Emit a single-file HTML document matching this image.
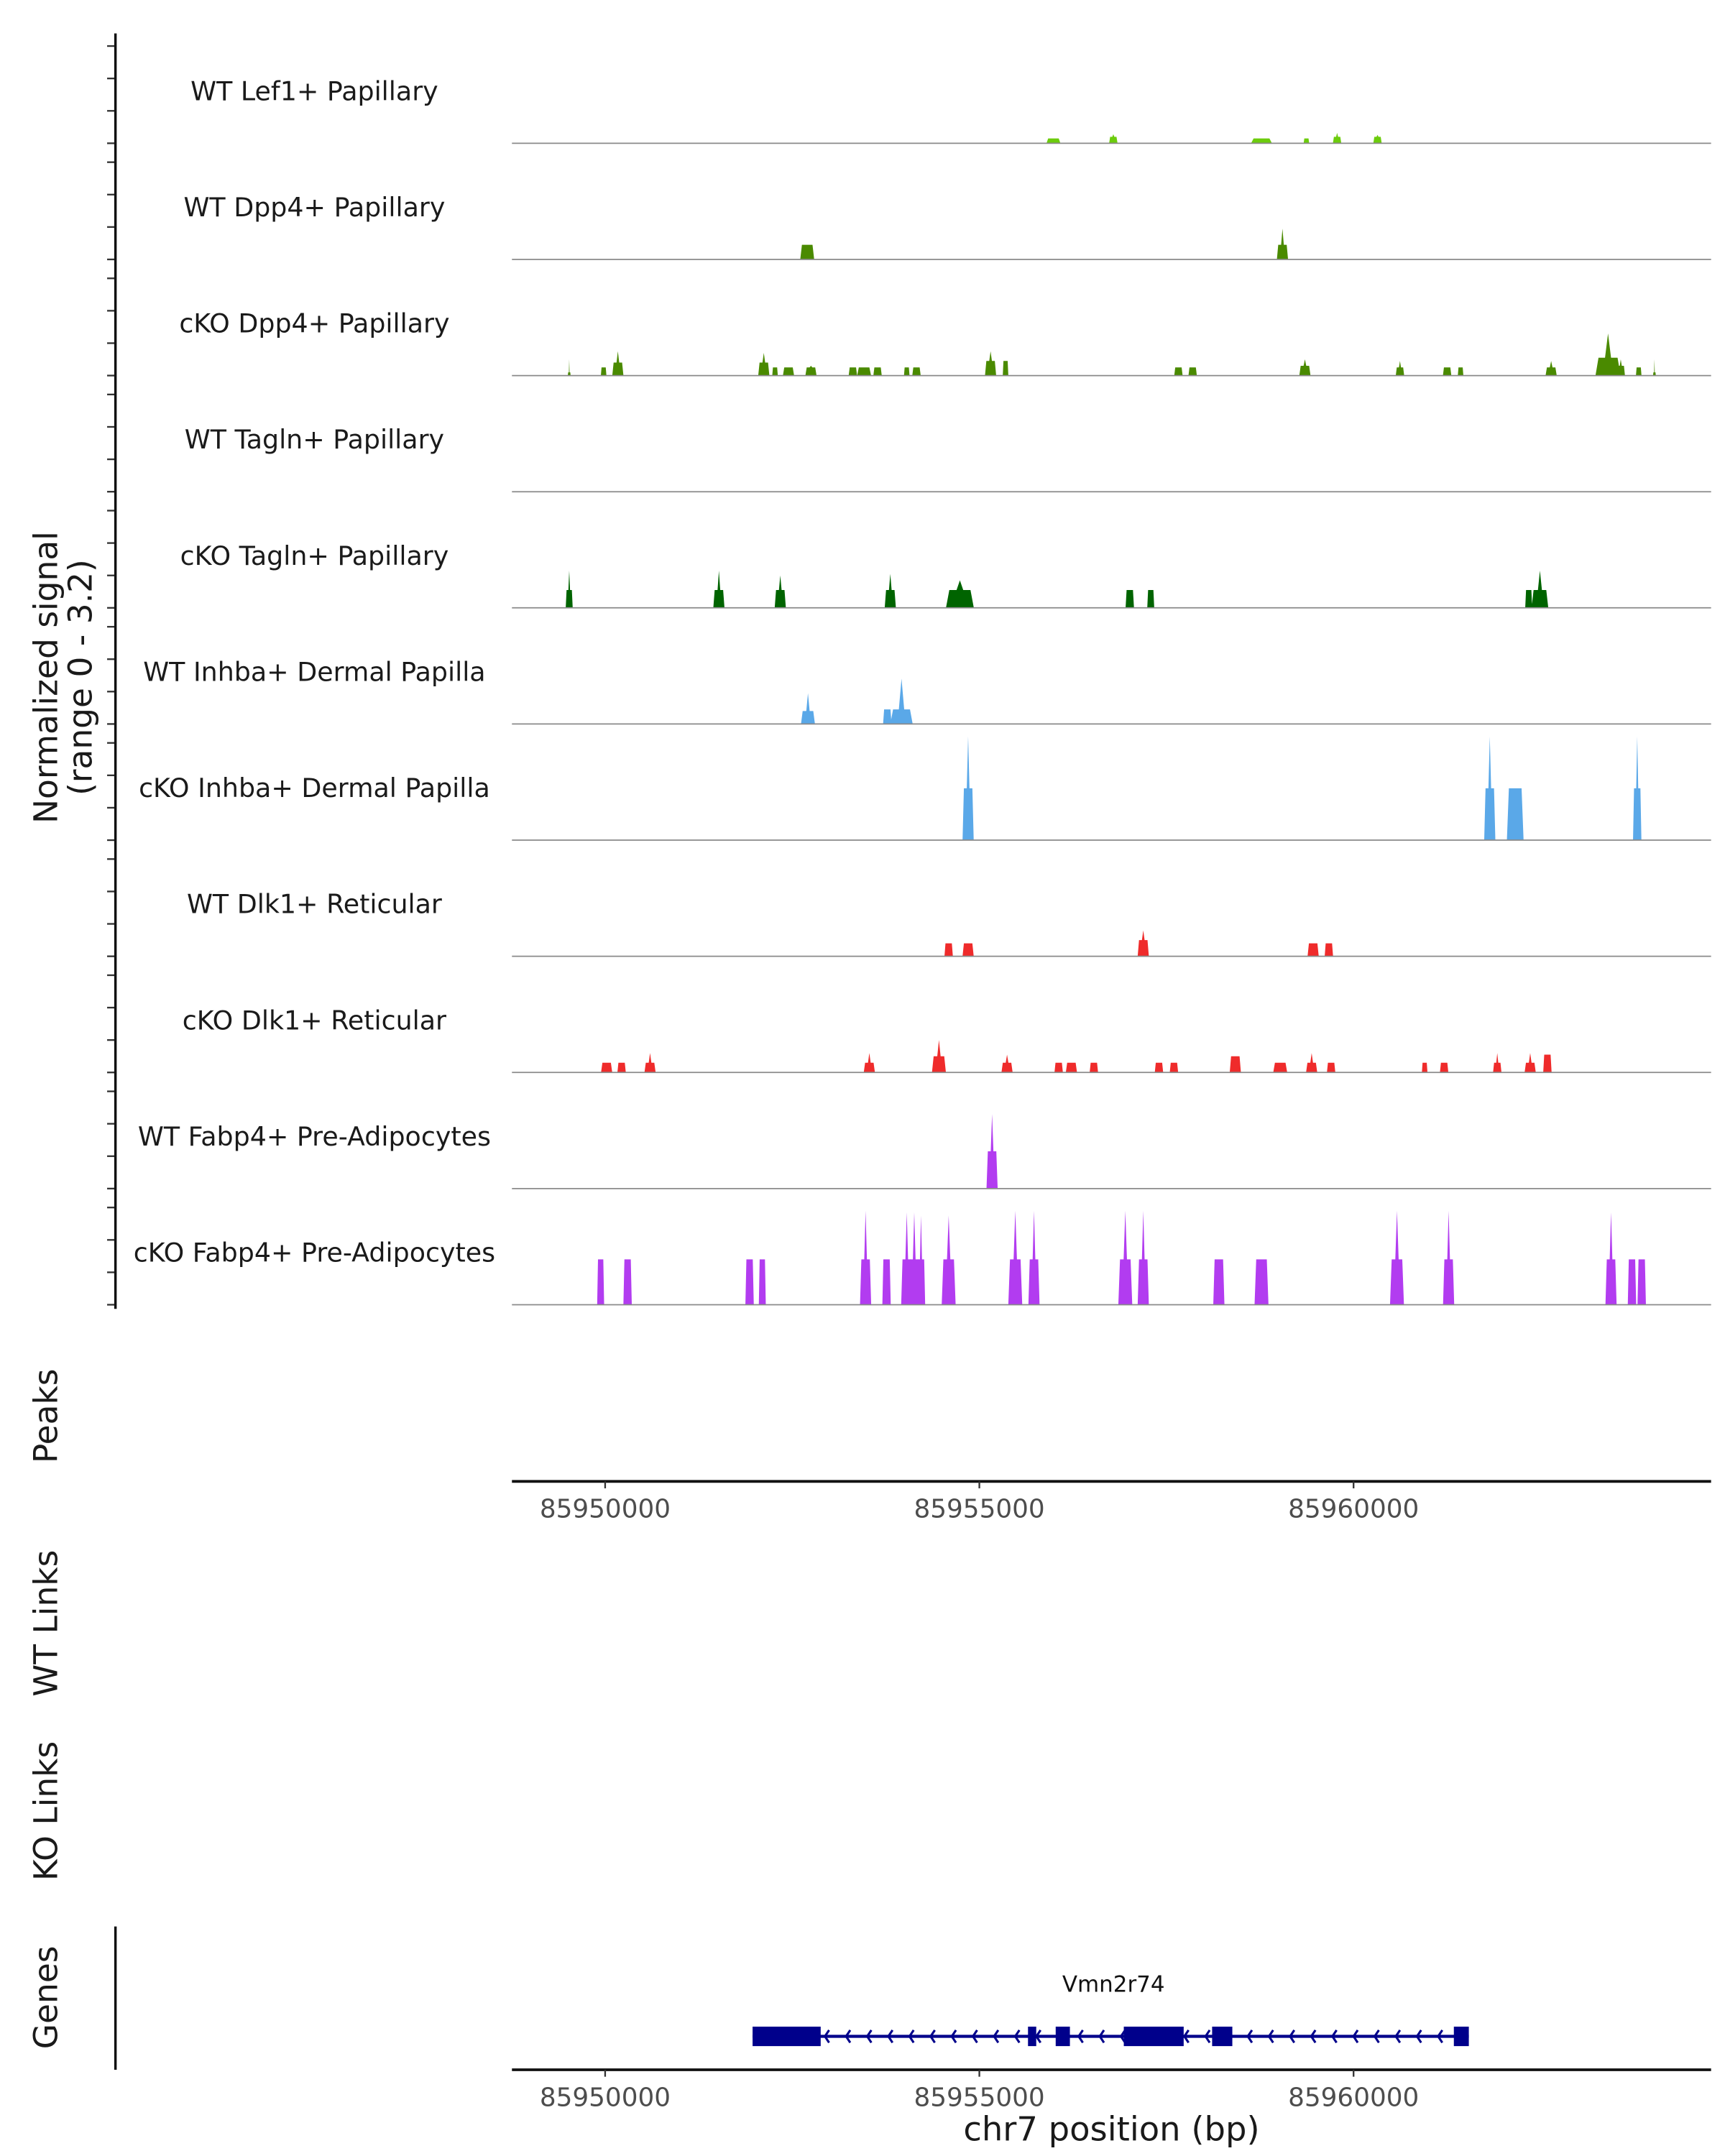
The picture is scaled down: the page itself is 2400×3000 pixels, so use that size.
<!DOCTYPE html>
<html><head><meta charset="utf-8"><style>
html,body{margin:0;padding:0;background:#fff}
svg{display:block}
text{font-family:"DejaVu Sans","Liberation Sans",sans-serif}
</style></head><body>
<svg id="chart" width="2400" height="3000" viewBox="0 0 1240 1550" xmlns="http://www.w3.org/2000/svg">
<g id="tracks"></g>
<g id="axes"></g>
<g id="genes"></g>
</svg>
<script>
// data: [position kb, width bp, plateau height, peak height]
const trackNames=["WT Lef1+ Papillary","WT Dpp4+ Papillary","cKO Dpp4+ Papillary","WT Tagln+ Papillary","cKO Tagln+ Papillary","WT Inhba+ Dermal Papilla","cKO Inhba+ Dermal Papilla","WT Dlk1+ Reticular","cKO Dlk1+ Reticular","WT Fabp4+ Pre-Adipocytes","cKO Fabp4+ Pre-Adipocytes"];
const trackColors=["#6ccc0c","#4a8a00","#4a8a00","#006400","#006400","#5aa8e8","#5aa8e8","#ef2b2b","#ef2b2b","#b23cf0","#b23cf0"];
const wtLef1=[[85955.99,186,0.15,0.15],[85956.79,112,0.2,0.28],[85958.77,279,0.15,0.15],[85959.37,74,0.15,0.15],[85959.78,112,0.2,0.32],[85960.32,112,0.2,0.26]];
const wtDpp4=[[85952.70,186,0.45,0.45],[85959.05,149,0.45,0.95]];
const koDpp4=[[85949.52,37,0.1,0.5],[85949.98,74,0.25,0.25],[85950.17,149,0.4,0.75],[85952.12,149,0.4,0.7],[85952.27,74,0.25,0.25],[85952.45,149,0.25,0.25],[85952.75,149,0.25,0.3],[85953.31,112,0.25,0.25],[85953.46,186,0.25,0.25],[85953.64,112,0.25,0.25],[85954.03,74,0.25,0.25],[85954.16,112,0.25,0.25],[85955.15,149,0.45,0.75],[85955.35,74,0.45,0.45],[85957.66,112,0.25,0.25],[85957.85,112,0.25,0.25],[85959.35,149,0.3,0.5],[85960.62,112,0.25,0.45],[85961.25,112,0.25,0.25],[85961.43,74,0.25,0.25],[85962.64,149,0.25,0.45],[85963.40,335,0.55,1.3],[85963.57,112,0.3,0.5],[85963.81,74,0.25,0.25],[85964.02,37,0.1,0.5]];
const wtTagln=[];
const koTagln=[[85949.52,93,0.55,1.15],[85951.52,149,0.55,1.15],[85952.34,149,0.55,1.0],[85953.81,149,0.55,1.05],[85954.74,372,0.55,0.85],[85957.01,112,0.55,0.55],[85957.29,93,0.55,0.55],[85962.34,93,0.55,0.55],[85962.49,223,0.55,1.15]];
const wtInhba=[[85952.71,186,0.4,0.95],[85953.77,112,0.45,0.45],[85953.96,298,0.45,1.4]];
const koInhba=[[85954.85,149,1.6,3.2],[85961.82,149,1.6,3.2],[85962.16,223,1.6,1.6],[85963.79,112,1.6,3.2]];
const wtDlk1=[[85954.59,112,0.4,0.4],[85954.85,149,0.4,0.4],[85957.19,149,0.5,0.8],[85959.46,149,0.4,0.4],[85959.67,112,0.4,0.4]];
const koDlk1=[[85950.02,149,0.3,0.3],[85950.22,112,0.3,0.3],[85950.60,149,0.3,0.6],[85953.53,149,0.3,0.6],[85954.46,186,0.5,1.0],[85955.37,149,0.3,0.55],[85956.06,112,0.3,0.3],[85956.23,149,0.3,0.3],[85956.53,112,0.3,0.3],[85957.40,112,0.3,0.3],[85957.60,112,0.3,0.3],[85958.42,149,0.5,0.5],[85959.02,186,0.3,0.3],[85959.44,149,0.3,0.6],[85959.70,112,0.3,0.3],[85960.95,74,0.3,0.3],[85961.21,112,0.3,0.3],[85961.92,112,0.3,0.6],[85962.36,149,0.3,0.6],[85962.59,112,0.55,0.55]];
const wtFabp4=[[85955.17,149,1.15,2.3]];
const koFabp4=[[85949.94,93,1.4,1.4],[85950.30,112,1.4,1.4],[85951.93,112,1.4,1.4],[85952.10,93,1.4,1.4],[85953.48,149,1.4,2.9],[85953.76,112,1.4,1.4],[85954.03,149,1.4,2.85],[85954.13,149,1.4,2.85],[85954.22,112,1.4,2.75],[85954.59,186,1.4,2.75],[85955.48,186,1.4,2.9],[85955.73,149,1.4,2.9],[85956.95,186,1.4,2.9],[85957.19,149,1.4,2.9],[85958.20,149,1.4,1.4],[85958.77,186,1.4,1.4],[85960.58,186,1.4,2.9],[85961.27,149,1.4,2.9],[85963.44,149,1.4,2.85],[85963.72,112,1.4,1.4],[85963.85,112,1.4,1.4]];
const trackData=[wtLef1,wtDpp4,koDpp4,wtTagln,koTagln,wtInhba,koInhba,wtDlk1,koDlk1,wtFabp4,koFabp4];
const xTicks=[85950000,85955000,85960000];
const geneExons=[[85951.97,85952.88],[85955.65,85955.76],[85956.02,85956.21],[85956.93,85957.73],[85958.11,85958.38],[85961.34,85961.54]];
const geneSpan=[85951.97,85961.54];
const geneName="Vmn2r74";

const NS="http://www.w3.org/2000/svg";
function mk(tag,attrs,parent,txt){const e=document.createElementNS(NS,tag);for(const k in attrs)e.setAttribute(k,attrs[k]);if(txt!==undefined)e.textContent=txt;parent.appendChild(e);return e;}
const xScale=bp=>435+(bp-85950000)*0.0538;
const TOP=103, STEP=83.5, UNIT=23.3;
const tracks=document.getElementById('tracks'), axes=document.getElementById('axes'), genes=document.getElementById('genes');

trackData.forEach((arr,i)=>{
  const base=TOP+STEP*i;
  const g=mk('g',{},tracks);
  
  
  const lbl=mk('text',{x:226,y:base-31,'text-anchor':'middle','font-size':18.8,fill:'#1a1a1a'},g,trackNames[i]);
  
  
  arr.forEach(p=>{
    const c=p[0]*1000, w=p[1];
    const s=xScale(c-w/2), e=xScale(c+w/2), cx=xScale(c), d=(e-s)*0.12;
    const ph=base-p[2]*UNIT, pk=base-p[3]*UNIT;
    let pts;
    if(p[3]>p[2]) pts=[[s,base],[s+d,ph],[cx-d,ph],[cx,pk],[cx+d,ph],[e-d,ph],[e,base]];
    else pts=[[s,base],[s+d,ph],[e-d,ph],[e,base]];
    const poly=mk('polygon',{points:pts.map(q=>q.join(',')).join(' '),fill:trackColors[i]},g);
    
    
  });
  const bl=mk('line',{x1:368,x2:1230,y1:base,y2:base,stroke:'#8a8a8a','stroke-width':0.9},g);
  
  
  for(let t=0;t<4;t++){
    const tk=mk('line',{x1:77,x2:83,y1:base-t*UNIT,y2:base-t*UNIT,stroke:'#333','stroke-width':1.2},axes);
    
    
  }
});
const yl=mk('line',{x1:83,x2:83,y1:24,y2:941,stroke:'#111','stroke-width':1.8},axes);


function rotText(x,y,s,name){const t=mk('text',{x:x,y:y,'text-anchor':'middle','font-size':23.5,fill:'#1a1a1a',transform:`rotate(-90 ${x} ${y})`},axes,s);}
rotText(41,487,"Normalized signal","y-axis-title");
rotText(66,487,"(range 0 - 3.2)","y-axis-range");
rotText(41,1018,"Peaks","peaks-title");
rotText(41,1167,"WT Links","wt-links-title");
rotText(41,1302,"KO Links","ko-links-title");
rotText(41,1436,"Genes","genes-title");

function xAxis(y,name){
  const l=mk('line',{x1:368,x2:1230,y1:y,y2:y,stroke:'#111','stroke-width':2},axes);
  
  
  xTicks.forEach(v=>{
    const x=xScale(v);
    const t=mk('line',{x1:x,x2:x,y1:y,y2:y+5,stroke:'#333','stroke-width':1.2},axes);
    
    
    const tl=mk('text',{x:x,y:y+26,'text-anchor':'middle','font-size':18.5,fill:'#4d4d4d'},axes,String(v));
    
    
  });
}
xAxis(1065,'peaks-x-axis');
xAxis(1488,'gene-x-axis');
const xt=mk('text',{x:799,y:1539,'text-anchor':'middle','font-size':24,fill:'#1a1a1a'},axes,"chr7 position (bp)");


const gl=mk('line',{x1:83,x2:83,y1:1385,y2:1488,stroke:'#111','stroke-width':1.8},axes);



// gene model
const gy=1464, gx1=xScale(geneSpan[0]*1000), gx2=xScale(geneSpan[1]*1000);
const gn=mk('text',{x:(gx1+gx2)/2+2,y:1432,'text-anchor':'middle','font-size':16,fill:'#111'},genes,geneName);


const il=mk('line',{x1:gx1,x2:gx2,y1:gy,y2:gy,stroke:'#00008B','stroke-width':2.2},genes);


for(let x=gx1+52;x<gx2-8;x+=15.2){
  const a=mk('polyline',{points:`${x+3},${gy-4.5} ${x},${gy} ${x+3},${gy+4.5}`,fill:'none',stroke:'#00008B','stroke-width':1.6},genes);
  
  
}
geneExons.forEach(ex=>{
  const x1=xScale(ex[0]*1000), x2=xScale(ex[1]*1000);
  const r=mk('rect',{x:x1,y:gy-7,width:x2-x1,height:14,fill:'#00008B'},genes);
  
  
});
</script>
</body></html>
